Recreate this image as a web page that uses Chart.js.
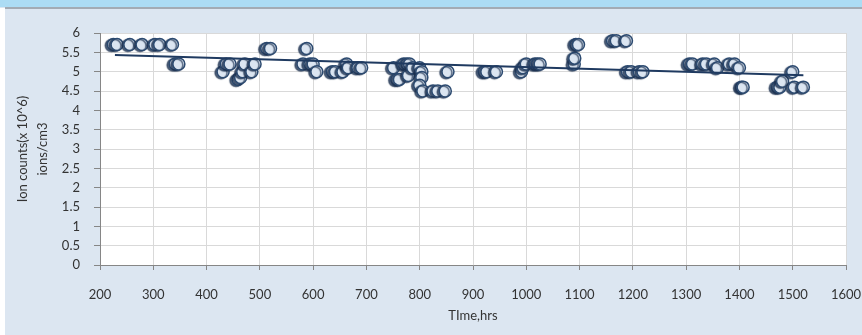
<!DOCTYPE html>
<html>
<head>
<meta charset="utf-8">
<script src="https://cdn.jsdelivr.net/npm/chart.js@4"></script>
<style>
  html, body { margin: 0; padding: 0; background: #dce6f1; }
  #wrap { width: 862px; height: 335px; }
</style>
</head>
<body>
<div id="wrap"><canvas id="ionChart" width="862" height="335"></canvas></div>
<script>
// measured points (hours, ion counts x10^6 ions/cm3)
const timeHrs = [
  225, 232, 256, 279, 303, 312, 336,
  341, 348,
  431, 437, 444, 459, 464, 468, 472, 485, 491,
  513, 520,
  581, 588, 594, 600, 607, 636, 642, 656, 663, 666, 684, 691,
  751, 757, 762, 770, 776, 781, 779, 787, 800, 804, 804, 800, 806, 825, 834, 848, 853,
  921, 926, 944,
  991, 994, 1000, 1016, 1021, 1026,
  1090, 1091, 1093, 1098,
  1162, 1169, 1188,
  1190, 1197, 1212, 1219,
  1306, 1312, 1331, 1338, 1353, 1359, 1381, 1391, 1400, 1404, 1407,
  1471, 1476, 1481, 1500, 1503, 1520
];
const ionCounts = [
  5.7, 5.7, 5.7, 5.7, 5.7, 5.7, 5.7,
  5.2, 5.2,
  5.0, 5.2, 5.2, 4.8, 4.85, 5.0, 5.2, 5.0, 5.2,
  5.6, 5.6,
  5.2, 5.6, 5.2, 5.2, 5.0, 5.0, 5.0, 5.0, 5.2, 5.1, 5.1, 5.1,
  5.1, 4.8, 4.8, 5.2, 5.2, 5.2, 4.9, 5.1, 5.1, 5.0, 4.85, 4.65, 4.5, 4.5, 4.5, 4.5, 5.0,
  5.0, 5.0, 5.0,
  5.0, 5.1, 5.2, 5.2, 5.2, 5.2,
  5.2, 5.35, 5.7, 5.7,
  5.8, 5.8, 5.8,
  5.0, 5.0, 5.0, 5.0,
  5.2, 5.2, 5.2, 5.2, 5.2, 5.1, 5.2, 5.2, 5.1, 4.6, 4.6,
  4.6, 4.6, 4.75, 5.0, 4.6, 4.6
];
// linear trendline end points
const trendX = [228, 1520];
const trendY = [5.43, 4.91];

const xTicks = [200, 1600, 100];
const yTicks = [0, 6, 0.5];

Chart.defaults.font.family = 'Lato, "Open Sans", sans-serif';
Chart.defaults.font.size = 13;
Chart.defaults.color = '#333333';

const bgPlugin = {
  id: 'bgPlugin',
  beforeDraw(chart) {
    const c = chart.ctx, w = chart.width, h = chart.height;
    const a = chart.chartArea;
    c.save();
    c.fillStyle = '#dce6f1';
    c.fillRect(0, 0, w, h);
    c.fillStyle = '#ffffff';
    c.fillRect(0, 8, 5, h - 8);
    c.fillStyle = '#acdcf4';
    c.fillRect(0, 0, w, 7);
    c.fillStyle = '#a3abb4';
    c.fillRect(5, 7, w - 5, 2);
    c.fillStyle = '#ffffff';
    c.fillRect(a.left, a.top, a.right - a.left, a.bottom - a.top);
    c.restore();
  },
  beforeDatasetDraw(chart, args) {
    if (args.index === 1) {
      const c = chart.ctx;
      c.save();
      c.shadowColor = 'rgba(30,50,80,0.75)';
      c.shadowOffsetX = -2;
      c.shadowOffsetY = 1;
      c.shadowBlur = 1;
    }
  },
  afterDatasetDraw(chart, args) {
    if (args.index === 1) chart.ctx.restore();
  }
};

const ctx = document.getElementById('ionChart').getContext('2d');
new Chart(ctx, {
  type: 'scatter',
  data: {
    datasets: [
      {
        label: 'Trend',
        type: 'line',
        data: trendX.map((x, i) => ({ x: x, y: trendY[i] })),
        borderColor: '#1f3a60',
        borderWidth: 2,
        pointRadius: 0,
        fill: false,
        order: 0
      },
      {
        label: 'Ion counts',
        data: timeHrs.map((t, i) => ({ x: t, y: ionCounts[i] })),
        backgroundColor: '#dbe5f1',
        borderColor: '#2c4a70',
        borderWidth: 1.5,
        pointRadius: 6,
        pointHoverRadius: 6,
        order: 1
      }
    ]
  },
  options: {
    responsive: false,
    animation: false,
    events: [],
    layout: { padding: { top: 33, right: 16, left: 0, bottom: 0 } },
    plugins: {
      legend: { display: false },
      tooltip: { enabled: false }
    },
    scales: {
      x: {
        type: 'linear',
        min: xTicks[0],
        max: xTicks[1],
        afterFit(scale) { scale.height = 70; scale.paddingLeft = 0; scale.paddingRight = 0; },
        ticks: { stepSize: xTicks[2], padding: 17, maxRotation: 0, color: '#333333',
                 callback: v => String(v) },
        grid: { color: '#d9d9d9', tickColor: '#868686', tickLength: 5 },
        border: { color: '#868686' },
        title: { display: true, text: 'TIme,hrs', padding: { top: 0, bottom: 11 }, color: '#333333' }
      },
      y: {
        min: yTicks[0],
        max: yTicks[1],
        afterFit(scale) { scale.width = 100; scale.paddingTop = 0; scale.paddingBottom = 0; },
        ticks: { stepSize: yTicks[2], padding: 14, color: '#333333',
                 callback: v => String(v) },
        grid: { color: '#d9d9d9', tickColor: '#868686', tickLength: 6 },
        border: { color: '#868686' },
        title: { display: true, text: ['Ion counts(x 10^6)', 'ions/cm3'], padding: { top: 13 },
                 font: { lineHeight: 1.55 }, color: '#333333' }
      }
    }
  },
  plugins: [bgPlugin]
});
</script>
</body>
</html>
